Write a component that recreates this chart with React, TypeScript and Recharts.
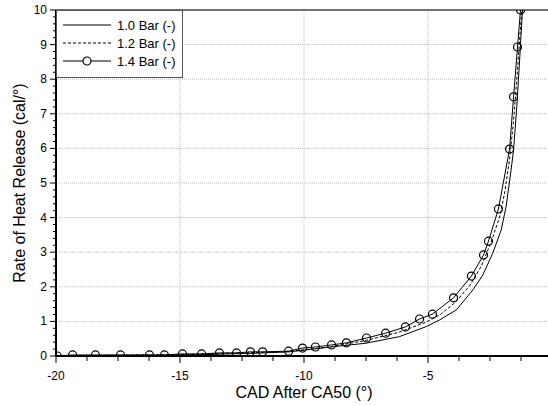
import { LineChart, Line, XAxis, YAxis, CartesianGrid, ReferenceLine } from 'recharts'

// 1.0 Bar (-) : plain solid line
const bar10X = [-20, -18, -16, -14, -12, -10.6, -8.8, -7.5, -6.15, -5.07, -4.54, -3.86, -3.19, -2.79, -2.39, -2.05, -1.85, -1.65, -1.55, -1.42, -1.31, -1.19]
const bar10Y = [0, 0.01, 0.02, 0.04, 0.08, 0.12, 0.27, 0.37, 0.56, 0.85, 1.04, 1.33, 1.91, 2.34, 2.97, 3.64, 4.32, 5.38, 5.95, 7.2, 8.5, 10.0]

// 1.2 Bar (-) : dashed line
const bar12X = [-20, -18, -16, -14, -12, -10.6, -9, -7.5, -6.2, -5.1, -4.5, -3.9, -3.3, -2.85, -2.45, -2.1, -1.9, -1.7, -1.55, -1.43, -1.33, -1.22]
const bar12Y = [0, 0.02, 0.03, 0.06, 0.1, 0.13, 0.26, 0.45, 0.68, 0.97, 1.2, 1.55, 2.05, 2.6, 3.3, 4.05, 4.75, 5.75, 6.8, 7.9, 8.9, 10.0]

// 1.4 Bar (-) : solid line with open circles
const bar14X = [-19.95, -19.33, -18.41, -17.4, -16.23, -15.63, -14.9, -14.13, -13.41, -12.72, -12.16, -11.67, -10.62, -10.06, -9.54, -8.89, -8.29, -7.48, -6.71, -5.91, -5.34, -4.82, -3.97, -3.25, -2.76, -2.56, -2.16, -1.71, -1.55, -1.39, -1.27]
const bar14Y = [0, 0.03, 0.03, 0.03, 0.03, 0.03, 0.06, 0.06, 0.09, 0.09, 0.12, 0.12, 0.14, 0.23, 0.26, 0.32, 0.38, 0.52, 0.66, 0.84, 1.07, 1.21, 1.68, 2.31, 2.92, 3.32, 4.25, 5.98, 7.49, 8.93, 10.0]

const xMajorTicks = [-20, -15, -10, -5]
const yMajorTicks = [0, 1, 2, 3, 4, 5, 6, 7, 8, 9, 10]

const zip = (xs: number[], ys: number[]) => xs.map((x, i) => ({ x, y: ys[i] }))
const bar10 = zip(bar10X, bar10Y)
const bar12 = zip(bar12X, bar12Y)
const bar14 = zip(bar14X, bar14Y)

// minor ticks: 4 per 5 units on x, 5 per unit on y
const xTicks = Array.from({ length: 17 }, (_, i) => -20 + i * 1.25)
const yTicks = Array.from({ length: 51 }, (_, i) => Math.round(i * 2) / 10)

const FONT = 'Arial, "Liberation Sans", sans-serif'

const isMajor = (v: number, list: number[]) => list.some((t) => Math.abs(t - v) < 1e-6)

const YTick = ({ x, y, payload }: any) => {
  const major = isMajor(payload.value, yMajorTicks)
  return (
    <g>
      <line x1={x - (major ? 6 : 3)} x2={x} y1={y} y2={y} stroke="#000" strokeWidth={1} />
      {major && (
        <text x={x - 9} y={y} dy={4} textAnchor="end" fontSize={12} fontFamily={FONT} fill="#000">
          {payload.value}
        </text>
      )}
    </g>
  )
}

const XTick = ({ x, y, payload }: any) => {
  const major = isMajor(payload.value, xMajorTicks)
  return (
    <g>
      <line x1={x} x2={x} y1={y} y2={y + (major ? 7 : 5)} stroke="#000" strokeWidth={1} />
      {major && (
        <text x={x} y={y + 24} textAnchor="middle" fontSize={12} fontFamily={FONT} fill="#000">
          {payload.value}
        </text>
      )}
    </g>
  )
}

const legendRows = [
  { name: '1.0 Bar (-)', dash: undefined as string | undefined, marker: false },
  { name: '1.2 Bar (-)', dash: '3 2', marker: false },
  { name: '1.4 Bar (-)', dash: undefined, marker: true },
]

const LegendBox = () => (
  <div
    style={{
      position: 'absolute',
      left: 56,
      top: 10,
      width: 127,
      height: 68,
      border: '1.5px solid #555',
      boxSizing: 'border-box',
      background: '#fff',
      fontFamily: FONT,
      fontSize: 13,
      paddingTop: 5,
    }}
  >
    {legendRows.map((r) => (
      <div key={r.name} style={{ display: 'flex', alignItems: 'center', height: 18 }}>
        <svg width={58} height={18}>
          <line x1={6} x2={54} y1={9} y2={9} stroke="#000" strokeWidth={1} strokeDasharray={r.dash} />
          {r.marker && <circle cx={30} cy={9} r={4} fill="#fff" stroke="#000" strokeWidth={1.2} />}
        </svg>
        <span style={{ marginLeft: 2 }}>{r.name}</span>
      </div>
    ))}
  </div>
)

export default function App() {
  return (
    <div style={{ position: 'absolute', left: 0, top: 0, width: 548, height: 406, overflow: 'hidden', background: '#fff' }}>
      <LineChart width={556} height={406} margin={{ top: 10, right: 4, left: 0, bottom: 0 }}>
        <CartesianGrid
          stroke="#bbb"
          strokeDasharray="1 1"
          horizontalValues={[1, 2, 3, 4, 5, 6, 7, 8, 9]}
          verticalValues={[-15, -10, -5]}
        />
        <XAxis
          dataKey="x"
          type="number"
          domain={[-20, 0]}
          ticks={xTicks}
          interval={0}
          tickSize={0}
          tickMargin={0}
          tick={<XTick />}
          height={50}
          axisLine={{ stroke: '#000', strokeWidth: 2 }}
          allowDataOverflow
          label={{ value: 'CAD After CA50 (°)', position: 'insideBottom', offset: 8, style: { fontSize: 16, fontFamily: FONT, fill: '#000' } }}
        />
        <YAxis
          type="number"
          domain={[0, 10]}
          ticks={yTicks}
          interval={0}
          tickSize={0}
          tickMargin={0}
          tick={<YTick />}
          width={56}
          axisLine={{ stroke: '#000', strokeWidth: 2 }}
          allowDataOverflow
          label={{
            value: 'Rate of Heat Release (cal/°)',
            angle: -90,
            position: 'insideLeft',
            offset: 19,
            style: { fontSize: 16, fontFamily: FONT, fill: '#000', textAnchor: 'middle' },
          }}
        />
        <ReferenceLine y={10} stroke="#444" strokeWidth={1.5} />
        <Line data={bar10} dataKey="y" stroke="#000" strokeWidth={1} dot={false} isAnimationActive={false} />
        <Line data={bar12} dataKey="y" stroke="#000" strokeWidth={1} strokeDasharray="3 2" dot={false} isAnimationActive={false} />
        <Line
          data={bar14}
          dataKey="y"
          stroke="#000"
          strokeWidth={1}
          dot={{ r: 4, fill: 'none', stroke: '#000', strokeWidth: 1.2 }}
          isAnimationActive={false}
        />
      </LineChart>
      <LegendBox />
    </div>
  )
}
